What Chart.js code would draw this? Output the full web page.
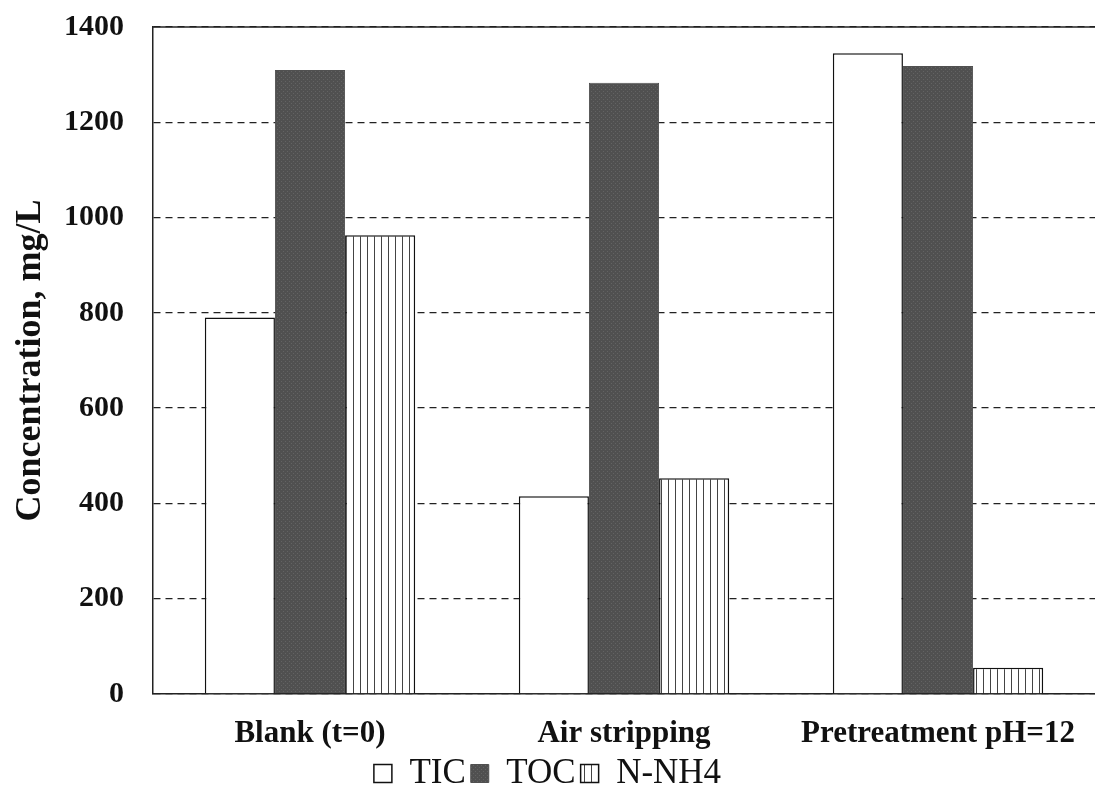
<!DOCTYPE html>
<html>
<head>
<meta charset="utf-8">
<script src="https://cdn.jsdelivr.net/npm/chart.js@4.4.0/dist/chart.umd.min.js"></script>
<style>
  html, body { margin: 0; padding: 0; background: #fff; }
  #wrap { width: 1095px; height: 787px; }
</style>
</head>
<body>
<div id="wrap"><canvas id="chart" width="1095" height="787"></canvas></div>
<script>
// data
const categories = ["Blank (t=0)", "Air stripping", "Pretreatment pH=12"];
const ticValues = [790, 415, 1345];
const tocValues = [1310, 1283, 1318];
const nh4Values = [963, 453, 55];
const seriesNames = ["TIC", "TOC", "N-NH4"];

// dark speckled fill for TOC
const makeSpeckle = () => {
  const c = document.createElement("canvas");
  c.width = 4; c.height = 4;
  const g = c.getContext("2d");
  g.fillStyle = "#505050"; g.fillRect(0, 0, 4, 4);
  g.fillStyle = "#636363"; g.fillRect(1, 1, 1, 1); g.fillRect(3, 3, 1, 1);
  return g.createPattern(c, "repeat");
};

// vertical stripes for N-NH4
const makeStripes = () => {
  const c = document.createElement("canvas");
  c.width = 7; c.height = 7;
  const g = c.getContext("2d");
  g.fillStyle = "#fff"; g.fillRect(0, 0, 7, 7);
  g.fillStyle = "#444"; g.fillRect(3, 0, 1, 7);
  return g.createPattern(c, "repeat");
};

const serif = "'Liberation Serif', 'Times New Roman', serif";

// solid top frame line (grid lines are dashed)
const topLine = {
  id: "topLine",
  afterDraw(chart) {
    const { ctx, chartArea } = chart;
    ctx.save();
    ctx.strokeStyle = "#222";
    ctx.lineWidth = 1.5;
    ctx.beginPath();
    ctx.moveTo(chartArea.left, chartArea.top);
    ctx.lineTo(chartArea.right, chartArea.top);
    ctx.stroke();
    ctx.restore();
  }
};

const ctx = document.getElementById("chart").getContext("2d");
new Chart(ctx, {
  type: "bar",
  data: {
    labels: categories,
    datasets: [
      { label: seriesNames[0], data: ticValues, backgroundColor: "#fff", borderColor: "#111", borderWidth: 1.5 },
      { label: seriesNames[1], data: tocValues, backgroundColor: makeSpeckle(), borderColor: "#505050", borderWidth: 1 },
      { label: seriesNames[2], data: nh4Values, backgroundColor: makeStripes(), borderColor: "#111", borderWidth: 1.5 }
    ]
  },
  plugins: [topLine],
  options: {
    responsive: false,
    animation: false,
    devicePixelRatio: 1,
    layout: { padding: { top: 27, right: 0, left: 0, bottom: -14 } },
    datasets: { bar: { categoryPercentage: 0.67, barPercentage: 1.0 } },
    plugins: {
      tooltip: { enabled: false },
      legend: {
        position: "bottom",
        labels: {
          color: "#111",
          font: { family: serif, size: 35 },
          boxWidth: 18, boxHeight: 18,
          padding: 5
        }
      }
    },
    scales: {
      x: {
        grid: { display: false, drawTicks: false },
        border: { display: true, color: "#222", width: 1.5 },
        ticks: { color: "#111", font: { family: serif, size: 31, weight: "bold" }, padding: 21, maxRotation: 0 },
        afterFit: (s) => { s.height = 57; s.paddingLeft = 0; s.paddingRight = 0; }
      },
      y: {
        min: 0, max: 1400,
        ticks: {
          stepSize: 200, color: "#111", padding: 29,
          font: { family: serif, size: 30, weight: "bold" },
          callback: (v) => String(v)
        },
        grid: { color: "#222", lineWidth: 1.3, drawTicks: false },
        border: { display: true, color: "#222", width: 1.5, dash: [7, 5] },
        title: {
          display: true, text: "Concentration, mg/L", color: "#111",
          font: { family: serif, size: 36, weight: "bold" }, padding: { top: 9, bottom: 0 }
        },
        afterFit: (s) => { s.width = 153; s.paddingTop = 0; s.paddingBottom = 0; }
      }
    }
  }
});
</script>
</body>
</html>
